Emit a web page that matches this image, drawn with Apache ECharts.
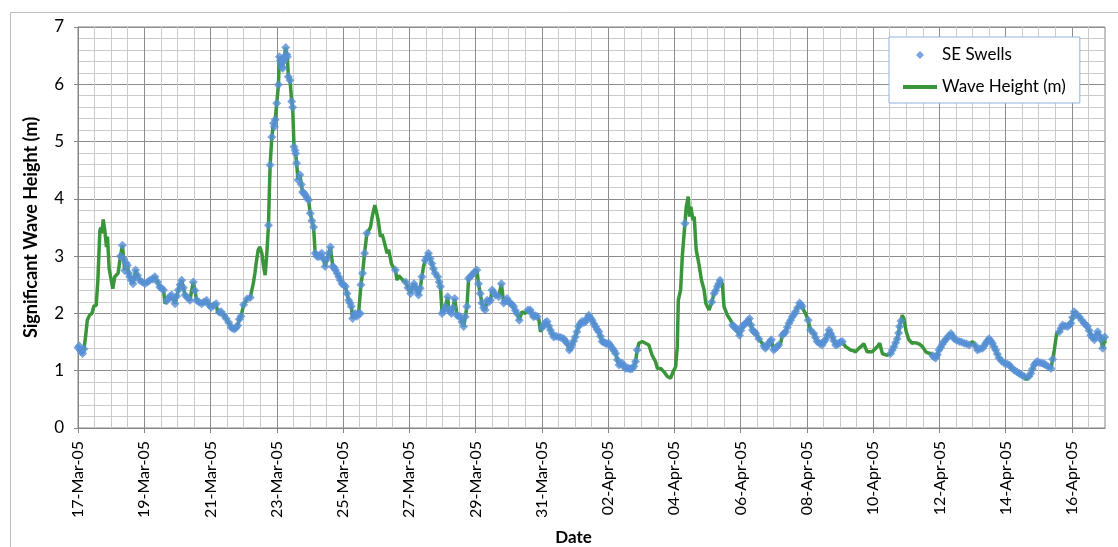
<!DOCTYPE html>
<html>
<head>
<meta charset="utf-8">
<script src="https://cdn.jsdelivr.net/npm/echarts@6/dist/echarts.min.js"></script>
<style>
html,body{margin:0;padding:0;background:#fff;}
#chart{width:1118px;height:547px;}
</style>
</head>
<body>
<div id="chart"></div>
<script>
// Days since 17-Mar-05 00:00
const waveDays = [
0.00,0.04,0.07,0.10,0.14,0.18,0.23,0.28,0.35,0.42,
0.48,0.55,0.60,0.66,0.70,0.73,0.76,0.81,0.86,0.89,
0.94,0.99,1.05,1.11,1.21,1.28,1.34,1.38,1.41,1.45,
1.49,1.53,1.56,1.61,1.66,1.70,1.74,1.80,1.86,1.94,
2.02,2.10,2.17,2.25,2.32,2.40,2.47,2.52,2.58,2.63,
2.68,2.73,2.78,2.83,2.88,2.93,2.98,3.03,3.08,3.13,
3.18,3.23,3.30,3.38,3.43,3.48,3.53,3.58,3.65,3.73,
3.80,3.88,3.95,4.02,4.10,4.17,4.22,4.27,4.32,4.40,
4.47,4.55,4.62,4.67,4.72,4.77,4.82,4.87,4.92,5.00,
5.10,5.20,5.29,5.34,5.39,5.44,5.49,5.55,5.60,5.65,
5.70,5.75,5.78,5.80,5.85,5.90,5.93,5.95,6.00,6.05,
6.08,6.11,6.13,6.16,6.18,6.21,6.23,6.27,6.30,6.32,
6.35,6.40,6.45,6.48,6.52,6.55,6.57,6.60,6.64,6.70,
6.74,6.78,6.82,6.86,6.91,6.96,7.01,7.06,7.11,7.16,
7.21,7.26,7.31,7.36,7.41,7.46,7.52,7.57,7.62,7.69,
7.73,7.77,7.82,7.87,7.92,7.97,8.02,8.07,8.12,8.17,
8.21,8.25,8.29,8.33,8.37,8.42,8.47,8.52,8.54,8.59,
8.65,8.72,8.78,8.83,8.88,8.96,9.00,9.06,9.13,9.18,
9.23,9.33,9.38,9.46,9.52,9.58,9.63,9.68,9.74,9.81,
9.89,9.96,10.04,10.09,10.14,10.20,10.25,10.28,10.33,10.38,
10.43,10.48,10.53,10.58,10.63,10.68,10.73,10.78,10.86,10.90,
10.94,10.99,11.04,11.09,11.16,11.19,11.23,11.27,11.32,11.37,
11.44,11.49,11.54,11.59,11.64,11.69,11.74,11.79,11.84,11.89,
11.96,12.04,12.09,12.14,12.19,12.24,12.29,12.35,12.40,12.45,
12.50,12.55,12.60,12.70,12.78,12.85,12.90,12.95,13.00,13.05,
13.10,13.15,13.20,13.25,13.32,13.40,13.45,13.50,13.58,13.65,
13.70,13.75,13.81,13.86,13.91,13.96,14.01,14.06,14.11,14.16,
14.21,14.26,14.31,14.36,14.43,14.51,14.58,14.66,14.71,14.76,
14.83,14.87,14.91,14.96,15.01,15.06,15.11,15.16,15.21,15.27,
15.32,15.37,15.42,15.47,15.52,15.57,15.62,15.67,15.72,15.77,
15.82,15.87,15.92,15.97,16.02,16.07,16.13,16.18,16.23,16.28,
16.33,16.38,16.43,16.48,16.53,16.58,16.63,16.68,16.73,16.78,
16.83,16.88,16.93,17.03,17.13,17.23,17.33,17.43,17.49,17.59,
17.69,17.79,17.89,17.96,18.04,18.09,18.12,18.19,18.24,18.32,
18.36,18.42,18.46,18.50,18.56,18.60,18.66,18.74,18.82,18.90,
18.95,19.00,19.05,19.13,19.20,19.25,19.30,19.34,19.38,19.45,
19.50,19.60,19.70,19.76,19.80,19.85,19.90,19.97,20.01,20.05,
20.10,20.15,20.21,20.27,20.31,20.36,20.41,20.46,20.51,20.55,
20.60,20.65,20.70,20.75,20.80,20.85,20.89,20.93,21.00,21.05,
21.10,21.15,21.21,21.26,21.31,21.36,21.41,21.46,21.51,21.56,
21.61,21.66,21.72,21.78,21.82,21.86,21.91,21.96,22.04,22.11,
22.16,22.21,22.26,22.31,22.38,22.46,22.51,22.56,22.62,22.67,
22.72,22.77,22.82,22.87,22.92,22.97,23.02,23.07,23.12,23.17,
23.25,23.32,23.40,23.47,23.57,23.65,23.72,23.82,23.90,23.97,
24.08,24.15,24.20,24.28,24.36,24.43,24.53,24.58,24.63,24.68,
24.73,24.77,24.80,24.84,24.88,24.93,25.00,25.08,25.18,25.25,
25.33,25.41,25.49,25.59,25.66,25.74,25.80,25.84,25.89,25.94,
25.99,26.04,26.09,26.14,26.20,26.27,26.35,26.40,26.45,26.52,
26.60,26.67,26.75,26.82,26.90,26.95,27.00,27.08,27.15,27.22,
27.30,27.35,27.40,27.45,27.50,27.55,27.60,27.65,27.70,27.75,
27.80,27.88,27.96,28.04,28.11,28.18,28.26,28.34,28.41,28.48,
28.56,28.63,28.70,28.76,28.81,28.86,28.91,28.96,29.04,29.11,
29.16,29.21,29.29,29.37,29.42,29.47,29.54,29.62,29.67,29.72,
29.80,29.87,29.92,29.97,30.02,30.07,30.15,30.22,30.30,30.37,
30.42,30.47,30.52,30.57,30.62,30.68,30.73,30.78,30.83,30.88,
30.93,30.99,31.00
];
const waveHeights = [
1.40,1.43,1.36,1.33,1.30,1.38,1.60,1.88,1.97,2.00,
2.13,2.14,2.58,3.45,3.50,3.40,3.64,3.45,3.16,3.34,
2.78,2.75,2.43,2.64,2.70,3.00,3.19,2.95,2.75,2.88,
2.84,2.70,2.64,2.58,2.52,2.62,2.76,2.66,2.58,2.55,
2.52,2.55,2.58,2.60,2.64,2.55,2.46,2.44,2.41,2.17,
2.22,2.26,2.30,2.32,2.25,2.17,2.30,2.41,2.50,2.58,
2.45,2.32,2.28,2.23,2.40,2.55,2.40,2.23,2.20,2.17,
2.20,2.23,2.15,2.11,2.14,2.17,2.00,2.02,2.03,1.97,
1.91,1.84,1.76,1.74,1.73,1.75,1.79,1.90,1.95,2.15,
2.25,2.28,2.52,2.70,2.93,3.11,3.16,3.05,2.82,2.67,
3.05,3.54,4.21,4.59,5.08,5.32,5.26,5.38,5.67,5.99,
6.48,6.42,6.36,6.30,6.28,6.40,6.48,6.64,6.52,6.48,
6.13,6.07,5.70,5.60,4.91,4.85,4.79,4.62,4.33,4.42,
4.25,4.12,4.10,4.07,4.02,3.98,3.75,3.62,3.51,3.05,
3.00,2.99,3.02,3.05,2.95,2.82,2.95,3.05,3.16,2.82,
2.80,2.76,2.70,2.64,2.58,2.52,2.50,2.47,2.35,2.23,
2.18,2.12,1.91,1.98,2.00,1.95,2.00,2.00,2.50,2.70,
3.05,3.40,3.45,3.51,3.69,3.89,3.80,3.63,3.34,3.38,
3.28,3.05,3.11,2.87,2.80,2.76,2.58,2.66,2.64,2.58,
2.55,2.45,2.35,2.45,2.52,2.45,2.38,2.32,2.44,2.64,
2.82,2.93,2.98,3.05,2.96,2.87,2.78,2.70,2.64,2.55,
2.47,2.00,2.05,2.12,2.29,2.06,2.04,2.00,2.10,2.26,
1.97,1.95,1.94,1.85,1.77,1.94,2.12,2.61,2.64,2.67,
2.72,2.76,2.52,2.35,2.18,2.10,2.06,2.23,2.20,2.23,
2.41,2.36,2.32,2.29,2.52,2.18,2.22,2.26,2.20,2.18,
2.15,2.12,2.05,2.00,1.88,2.03,2.01,2.00,2.06,2.06,
2.00,1.94,1.96,1.94,1.90,1.68,1.75,1.80,1.84,1.86,
1.78,1.71,1.65,1.59,1.60,1.59,1.58,1.56,1.52,1.48,
1.36,1.40,1.45,1.52,1.59,1.68,1.77,1.82,1.86,1.84,
1.86,1.92,1.97,1.92,1.88,1.82,1.77,1.72,1.68,1.60,
1.51,1.50,1.48,1.47,1.48,1.44,1.39,1.35,1.30,1.19,
1.10,1.12,1.13,1.08,1.04,1.05,1.04,1.03,1.04,1.08,
1.16,1.36,1.48,1.51,1.48,1.45,1.27,1.16,1.04,1.04,
0.98,0.90,0.87,0.98,1.07,1.42,2.23,2.41,2.99,3.57,
3.86,4.04,3.69,3.86,3.63,3.69,3.11,2.87,2.58,2.41,
2.18,2.15,2.06,2.20,2.35,2.40,2.47,2.52,2.58,2.52,
2.12,1.97,1.88,1.80,1.77,1.74,1.71,1.62,1.70,1.77,
1.80,1.83,1.86,1.91,1.80,1.71,1.68,1.65,1.60,1.56,
1.52,1.48,1.43,1.39,1.43,1.48,1.51,1.54,1.36,1.39,
1.42,1.45,1.48,1.62,1.65,1.68,1.76,1.83,1.88,1.94,
1.98,2.03,2.10,2.18,2.15,2.12,2.05,2.00,1.88,1.71,
1.68,1.65,1.58,1.51,1.48,1.45,1.50,1.54,1.62,1.71,
1.65,1.59,1.52,1.45,1.46,1.48,1.50,1.51,1.46,1.42,
1.39,1.36,1.35,1.33,1.39,1.43,1.47,1.33,1.33,1.33,
1.39,1.44,1.48,1.30,1.28,1.27,1.30,1.36,1.42,1.49,
1.56,1.66,1.77,1.87,1.97,1.91,1.68,1.54,1.48,1.49,
1.48,1.46,1.42,1.33,1.31,1.30,1.26,1.24,1.22,1.28,
1.36,1.41,1.46,1.51,1.55,1.60,1.65,1.60,1.56,1.53,
1.51,1.50,1.48,1.47,1.45,1.48,1.51,1.44,1.36,1.38,
1.39,1.43,1.48,1.52,1.56,1.52,1.48,1.42,1.36,1.29,
1.22,1.17,1.13,1.12,1.10,1.05,1.01,0.98,0.95,0.93,
0.90,0.84,0.90,0.95,1.03,1.10,1.14,1.16,1.14,1.13,
1.12,1.10,1.07,1.04,1.20,1.36,1.65,1.68,1.74,1.80,
1.78,1.77,1.80,1.83,1.93,2.03,1.98,1.94,1.88,1.83,
1.80,1.77,1.70,1.62,1.58,1.54,1.61,1.68,1.61,1.54,
1.39,1.59,1.48
];
// Time windows (days since 17-Mar-05) when the swell came from the SE
const seWindows = [
[0,0.18],[1.28,2.58],[2.68,3.38],[3.48,4.17],[4.27,5.20],[5.75,5.75],[5.80,8.72],
[9.58,9.58],[9.89,10.38],[10.48,13.32],[13.58,13.86],[14.01,16.88],[18.32,18.32],
[19.13,19.38],[19.76,20.46],[20.55,20.55],[20.70,21.15],[21.26,21.86],[22.04,22.11],
[22.21,23.07],[24.53,24.84],[25.80,26.90],[27.08,28.56],[28.70,29.42],[29.62,30.99]
];
const tickDays = [0,2,4,6,8,10,12,14,16,18,20,22,24,26,28,30];
const tickLabels = ['17-Mar-05','19-Mar-05','21-Mar-05','23-Mar-05','25-Mar-05','27-Mar-05','29-Mar-05','31-Mar-05',
  '02-Apr-05','04-Apr-05','06-Apr-05','08-Apr-05','10-Apr-05','12-Apr-05','14-Apr-05','16-Apr-05'];

const lineData = waveDays.map((d, i) => [d, waveHeights[i]]);
const seData = lineData.filter(p => seWindows.some(w => p[0] >= w[0] && p[0] <= w[1]));

const MAJ = '#8c8c8c', MIN = '#cbcbcb', AX = '#868686';
const FONT = 'Lato';
const hidden = {axisLine: {show: false}, axisTick: {show: false}, axisLabel: {show: false}};
const chart = echarts.init(document.getElementById('chart'), null, {renderer: 'canvas'});
chart.setOption({
  animation: false,
  backgroundColor: '#fff',
  textStyle: {fontFamily: FONT},
  graphic: [{
    type: 'rect', left: 8, top: 10, silent: true, z: -10,
    shape: {width: 1300, height: 700},
    style: {fill: 'none', stroke: '#bdbdbd', lineWidth: 1}
  }],
  grid: {left: 78, top: 27, width: 1027, height: 401, show: true, borderColor: AX, borderWidth: 1,
    backgroundColor: 'transparent', containLabel: false, outerBoundsMode: 'none'},
  legend: {
    orient: 'vertical', left: 889, top: 37,
    padding: [8, 14, 6, 14],
    itemWidth: 34, itemHeight: 8, itemGap: 12,
    borderColor: '#8db3e2', borderWidth: 1, backgroundColor: '#fff',
    textStyle: {fontFamily: FONT, fontSize: 17, color: '#000', lineHeight: 20},
    data: [
      {name: 'SE Swells', icon: 'path://M4,0L8,4L4,8L0,4Z'},
      {name: 'Wave Height (m)', icon: 'path://M0,0L34,0L34,4L0,4Z'}
    ]
  },
  xAxis: [{
    type: 'value', min: 0, max: 31, interval: 2,
    name: 'Date', nameLocation: 'middle', nameGap: 101, nameMoveOverlap: false,
    nameTextStyle: {fontFamily: FONT, fontSize: 17, fontWeight: 'bold', color: '#000', padding: [0, 36, 0, 0]},
    axisLine: {show: true, lineStyle: {color: AX, width: 1}},
    axisTick: {show: true, customValues: tickDays, length: 5, lineStyle: {color: AX}},
    axisLabel: {customValues: tickDays, rotate: 90, margin: 13, fontSize: 16, color: '#000', fontFamily: FONT,
      formatter: v => tickLabels[Math.round(v / 2)] || ''},
    splitLine: {show: false}
  }, Object.assign({
    type: 'value', min: 0, max: 31, interval: 0.5, position: 'bottom',
    splitLine: {show: true, showMaxLine: false, lineStyle: {color: [MAJ, MIN, MIN, MIN], width: 1}}
  }, hidden)],
  yAxis: [{
    type: 'value', min: 0, max: 7, interval: 1,
    name: 'Significant Wave Height (m)', nameLocation: 'middle', nameGap: 38, nameRotate: 90, nameMoveOverlap: false,
    nameTextStyle: {fontFamily: FONT, fontSize: 18, fontWeight: 'bold', color: '#000'},
    axisLine: {show: true, lineStyle: {color: AX, width: 1}},
    axisTick: {show: true, length: 4, lineStyle: {color: AX}},
    axisLabel: {margin: 14, fontSize: 17, color: '#000', fontFamily: FONT},
    splitLine: {show: false}
  }, Object.assign({
    type: 'value', min: 0, max: 7, interval: 0.2, position: 'left',
    splitLine: {show: true, lineStyle: {color: [MAJ, MIN, MIN, MIN, MIN], width: 1}}
  }, hidden)],
  series: [
    {
      name: 'SE Swells', type: 'scatter', data: seData,
      symbol: 'diamond', symbolSize: 9,
      itemStyle: {color: '#5890d8'}, z: 4
    },
    {
      name: 'Wave Height (m)', type: 'line', data: lineData,
      showSymbol: false, symbol: 'none',
      lineStyle: {color: '#3a963a', width: 3.5},
      itemStyle: {color: '#3a963a'}, z: 3
    }
  ]
});
</script>
</body>
</html>
